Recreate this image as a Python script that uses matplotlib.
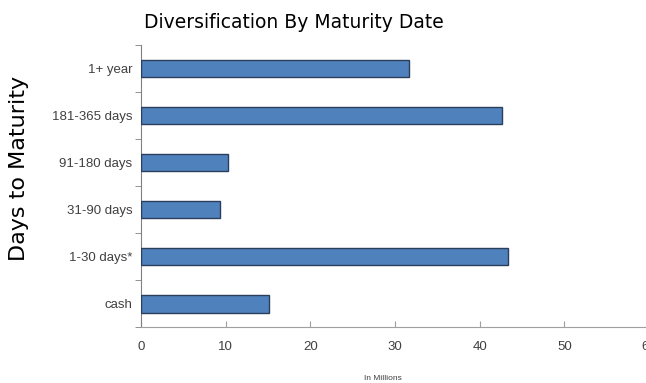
import matplotlib
matplotlib.use("Agg")
import matplotlib.pyplot as plt
from matplotlib.ticker import FixedLocator

categories = ["cash", "1-30 days*", "31-90 days", "91-180 days", "181-365 days", "1+ year"]
values = [15.1, 43.3, 9.3, 10.3, 42.6, 31.6]
x_ticks = [0, 10, 20, 30, 40, 50, 60]

narrow = ["Liberation Sans Narrow", "Liberation Sans", "DejaVu Sans"]

fig = plt.figure(figsize=(6.46, 3.83), dpi=100)
ax = fig.add_axes([0.218, 0.146, 0.787, 0.7365])

y = range(len(categories))
ax.barh(y, values, height=0.38, color="#4F81BD", edgecolor="#2B3F5C", linewidth=1.0, zorder=3)

ax.set_xlim(0, 60)
ax.set_ylim(-0.5, len(categories) - 0.5)
ax.set_xticks(x_ticks)
ax.set_xticklabels([str(t) for t in x_ticks], family=narrow, fontsize=9.5, color="#404040")
ax.set_yticks(list(y))
ax.set_yticklabels(categories, family=narrow, fontsize=9.5, color="#404040")
ax.tick_params(axis="y", which="major", length=0, pad=6)
ax.yaxis.set_minor_locator(FixedLocator([i - 0.5 for i in range(len(categories) + 1)]))
ax.tick_params(axis="y", which="minor", length=4, direction="out", color="#808080")
ax.tick_params(axis="x", which="major", length=4, direction="in", color="#A0A0A0", pad=10)

for s in ["top", "right"]:
    ax.spines[s].set_visible(False)
ax.spines["left"].set_color("#808080")
ax.spines["bottom"].set_color("#A0A0A0")

fig.text(0.455, 0.94, "Diversification By Maturity Date", ha="center", va="center", fontsize=13.5)
fig.text(0.03, 0.56, "Days to Maturity", ha="center", va="center", rotation=90, fontsize=16)
fig.text(0.593, 0.013, "In Millions", ha="center", va="center", fontsize=6, family=narrow, color="#404040")

fig.savefig("out.png", dpi=100)
